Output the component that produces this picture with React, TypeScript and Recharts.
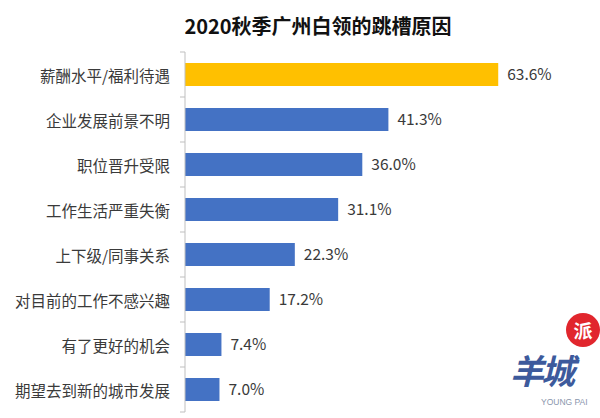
import { BarChart, Bar, XAxis, YAxis, Cell, LabelList } from 'recharts';

const TITLE = '2020秋季广州白领的跳槽原因';
const reasons = [
  '薪酬水平/福利待遇',
  '企业发展前景不明',
  '职位晋升受限',
  '工作生活严重失衡',
  '上下级/同事关系',
  '对目前的工作不感兴趣',
  '有了更好的机会',
  '期望去到新的城市发展',
];
const shares = [63.6, 41.3, 36.0, 31.1, 22.3, 17.2, 7.4, 7.0];
const highlight = [true, false, false, false, false, false, false, false];

const YELLOW = '#FFC000';
const BLUE = '#4472C4';
const AXIS_COLOR = '#bfbfbf';
const TEXT_COLOR = '#3a3a3a';
const FONT = '"Noto Sans CJK SC", "Noto Sans", sans-serif';

const WIDTH = 600;
const HEIGHT = 418;
const AXIS_X = 185;
const TOP = 52;
const BOTTOM = 6;
const BAND = (HEIGHT - TOP - BOTTOM) / reasons.length;

const data = reasons.map((name, i) => ({ name, value: shares[i], hl: highlight[i] }));

function CategoryTick(props: any) {
  const { x, y, payload, index } = props;
  const isLast = index === reasons.length - 1;
  return (
    <g>
      <line x1={AXIS_X - 5} x2={AXIS_X} y1={y - BAND / 2} y2={y - BAND / 2} stroke={AXIS_COLOR} />
      {isLast && (
        <line x1={AXIS_X - 5} x2={AXIS_X} y1={y + BAND / 2} y2={y + BAND / 2} stroke={AXIS_COLOR} />
      )}
      <text
        x={x}
        y={y}
        textAnchor="end"
        dominantBaseline="central"
        fill={TEXT_COLOR}
        fontSize={15.5}
        fontFamily={FONT}
      >
        {payload.value}
      </text>
    </g>
  );
}

export default function App() {
  return (
    <div
      style={{
        position: 'absolute',
        left: 0,
        top: 0,
        width: WIDTH,
        height: HEIGHT,
        background: '#fff',
        overflow: 'hidden',
      }}
    >
      <div
        style={{
          position: 'absolute',
          left: 0,
          top: 12,
          width: 636,
          textAlign: 'center',
          fontFamily: FONT,
          fontWeight: 700,
          fontSize: 20,
          lineHeight: '28px',
          color: '#111',
        }}
      >
        {TITLE}
      </div>

      <BarChart
        width={WIDTH}
        height={HEIGHT}
        data={data}
        layout="vertical"
        margin={{ top: TOP, right: 21, bottom: BOTTOM, left: 0 }}
        barSize={23}
      >
        <XAxis type="number" domain={[0, 80]} hide />
        <YAxis
          type="category"
          dataKey="name"
          width={AXIS_X}
          tickLine={false}
          tickSize={6}
          tickMargin={9}
          axisLine={{ stroke: AXIS_COLOR }}
          tick={<CategoryTick />}
          interval={0}
        />
        <Bar dataKey="value" isAnimationActive={false}>
          {data.map((d) => (
            <Cell key={d.name} fill={d.hl ? YELLOW : BLUE} />
          ))}
          <LabelList
            dataKey="value"
            position="right"
            offset={9}
            formatter={(v: any) => `${Number(v).toFixed(1)}%`}
            fill={TEXT_COLOR}
            fontSize={15.5}
            fontFamily={FONT}
          />
        </Bar>
      </BarChart>

      {/* watermark */}
      <div
        style={{
          position: 'absolute',
          left: 566,
          top: 313,
          width: 34,
          height: 34,
          borderRadius: '50%',
          background: '#e1262d',
          color: '#fff',
          fontFamily: FONT,
          fontWeight: 700,
          fontSize: 19,
          lineHeight: '34px',
          textAlign: 'center',
        }}
      >
        派
      </div>
      <div
        style={{
          position: 'absolute',
          left: 510,
          top: 353,
          fontFamily: FONT,
          fontWeight: 700,
          fontStyle: 'italic',
          fontSize: 34,
          lineHeight: '34px',
          letterSpacing: -3,
          color: '#3d5a9c',
        }}
      >
        羊城
      </div>
      <div
        style={{
          position: 'absolute',
          left: 541,
          top: 397,
          fontFamily: '"Liberation Sans", sans-serif',
          fontSize: 8.5,
          lineHeight: '10px',
          color: '#8a96ad',
        }}
      >
        YOUNG PAI
      </div>
    </div>
  );
}
